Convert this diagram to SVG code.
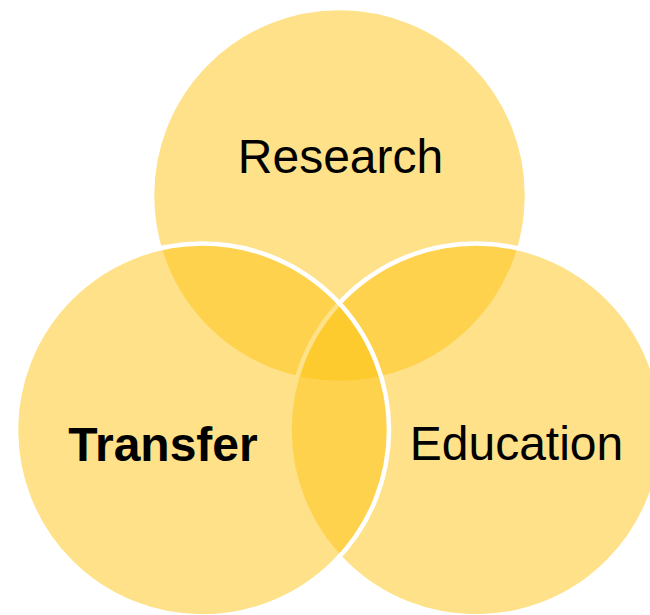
<svg xmlns="http://www.w3.org/2000/svg" width="650" height="615" viewBox="0 0 650 615">
<style>
.c{fill:#FEC411;fill-opacity:0.5;stroke:#FFFFFF;stroke-width:4.5}
.t{font-family:"Liberation Sans",Arial,sans-serif;font-size:48px;fill:#000000;text-anchor:middle}
.b{font-weight:bold}
</style>
<rect width="650" height="615" fill="#FFFFFF"/>
<g id="research">
<circle class="c" cx="339.5" cy="195.5" r="187.5"/>
</g>
<g id="education">
<circle class="c" cx="476" cy="430" r="186.5"/>
</g>
<g id="transfer">
<circle class="c" cx="202.5" cy="430" r="186.5"/>
</g>
<g id="connectors"></g>
<g id="labels">
<text class="t" x="340.5" y="172.5">Research</text>
<text class="t b" x="163" y="460.5">Transfer</text>
<text class="t" x="516.5" y="460">Education</text>
</g>
</svg>
